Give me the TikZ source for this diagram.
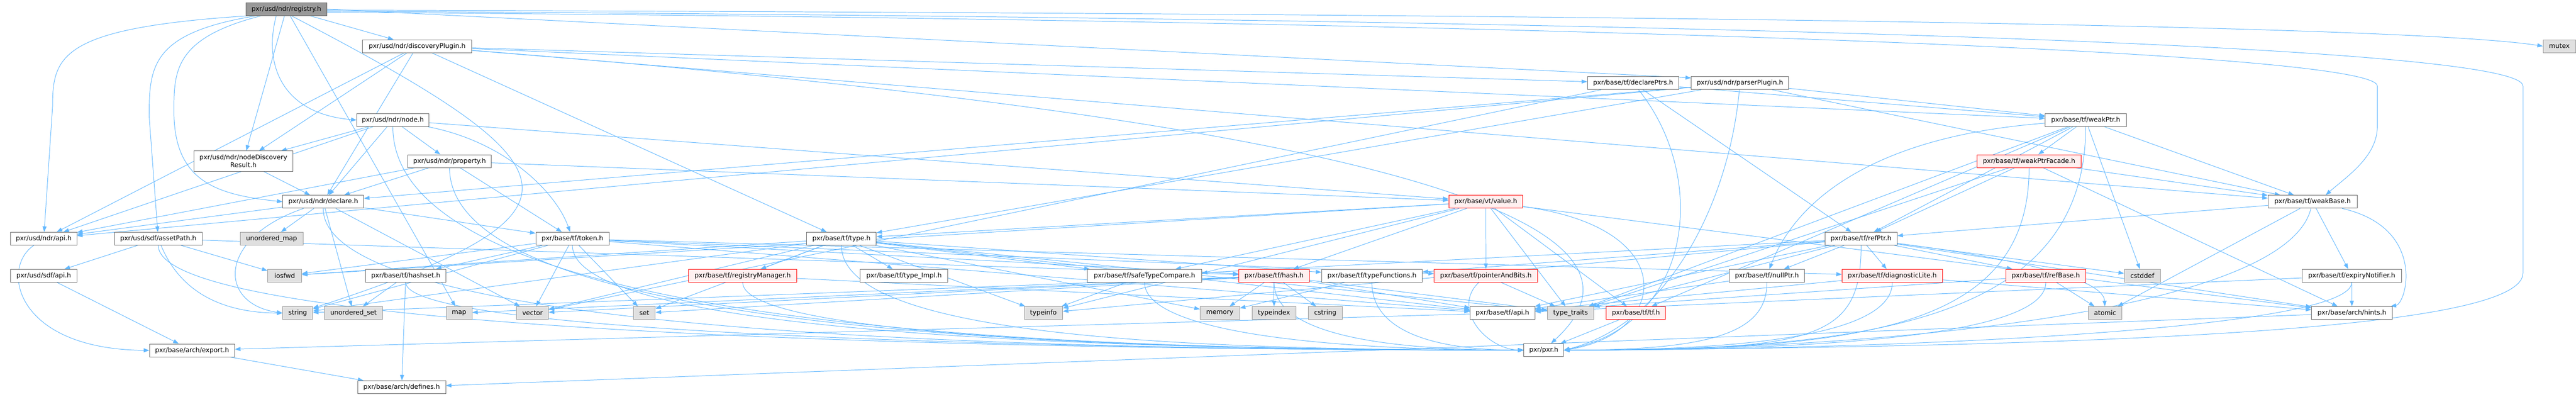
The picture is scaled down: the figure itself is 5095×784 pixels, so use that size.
\documentclass[tikz,border=0pt]{standalone}
\usepackage{fontspec}
\setmainfont{DejaVu Sans}
\usetikzlibrary{arrows.meta}
\definecolor{edgeblue}{HTML}{63B8FF}
\definecolor{nborder}{HTML}{666666}
\definecolor{xborder}{HTML}{999999}
\definecolor{xfill}{HTML}{E0E0E0}
\definecolor{rfill}{HTML}{999999}
\definecolor{tfill}{HTML}{FFF0F0}
\pgfdeclarelayer{edgelayer}
\pgfsetlayers{edgelayer,main}
\tikzset{
  nbox/.style={draw=nborder, fill=white, line width=1pt, inner sep=0pt, minimum height=25.5pt, font=\fontsize{12.8}{15}\selectfont, text=black},
  rootbox/.style={nbox, fill=rfill},
  xbox/.style={nbox, draw=xborder, fill=xfill},
  tbox/.style={nbox, draw=red, fill=tfill},
  edge/.style={draw=edgeblue, line width=1pt, -{Triangle[length=11pt,width=8pt]}},
}
\begin{document}
\begin{tikzpicture}[x=1pt,y=-1pt]
\useasboundingbox (0,0) rectangle (5095,784);
% ---------- nodes ----------
\node[rootbox, minimum width=159.4pt] (registry) at (566.4,18) {pxr/usd/ndr/registry.h};
\node[nbox, minimum width=215.8pt] (discPlug) at (825,91.25) {pxr/usd/ndr/discoveryPlugin.h};
\node[xbox, minimum width=64pt] (mutex) at (5062,91.25) {mutex};
\node[nbox, minimum width=181pt] (declarePtrs) at (3230.2,164.25) {pxr/base/tf/declarePtrs.h};
\node[nbox, minimum width=192.6pt] (parserPlugin) at (3441.4,164.25) {pxr/usd/ndr/parserPlugin.h};
\node[nbox, minimum width=142.5pt] (ndnode) at (777,237.25) {pxr/usd/ndr/node.h};
\node[nbox, minimum width=160.4pt] (weakPtr) at (4125.2,237.25) {pxr/base/tf/weakPtr.h};
\node[nbox, minimum width=196.2pt, minimum height=40pt, align=center] (nodeDisc) at (481.3,318.5) {pxr/usd/ndr/nodeDiscovery\\Result.h};
\node[nbox, minimum width=164.4pt] (property) at (889.2,318.5) {pxr/usd/ndr/property.h};
\node[tbox, minimum width=206.6pt] (weakPtrFacade) at (4013.3,318.5) {pxr/base/tf/weakPtrFacade.h};
\node[nbox, minimum width=160pt] (declare) at (639.3,398.75) {pxr/usd/ndr/declare.h};
\node[tbox, minimum width=146.4pt] (value) at (2938.6,398.75) {pxr/base/vt/value.h};
\node[nbox, minimum width=176.1pt] (weakBase) at (4573.9,398.75) {pxr/base/tf/weakBase.h};
\node[nbox, minimum width=130.7pt] (api) at (86.5,471.75) {pxr/usd/ndr/api.h};
\node[nbox, minimum width=172.9pt] (assetPath) at (313,471.75) {pxr/usd/sdf/assetPath.h};
\node[xbox, minimum width=124.7pt] (umap) at (537.2,471.75) {unordered\_map};
\node[nbox, minimum width=144.7pt] (token) at (1132.2,471.75) {pxr/base/tf/token.h};
\node[nbox, minimum width=137.7pt] (ntype) at (1664.2,471.75) {pxr/base/tf/type.h};
\node[nbox, minimum width=142.5pt] (refPtr) at (3681,471.75) {pxr/base/tf/refPtr.h};
\node[nbox, minimum width=130.7pt] (sdfapi) at (86.5,545) {pxr/usd/sdf/api.h};
\node[xbox, minimum width=67.2pt] (iosfwd) at (563.1,545) {iosfwd};
\node[nbox, minimum width=159pt] (hashset) at (802.5,545) {pxr/base/tf/hashset.h};
\node[tbox, minimum width=213.5pt] (regMgr) at (1469,545) {pxr/base/tf/registryManager.h};
\node[nbox, minimum width=172.9pt] (typeImpl) at (1788,545) {pxr/base/tf/type\_Impl.h};
\node[nbox, minimum width=225.4pt] (safeTC) at (2263.7,545) {pxr/base/tf/safeTypeCompare.h};
\node[tbox, minimum width=139.5pt] (hash) at (2519.9,545) {pxr/base/tf/hash.h};
\node[nbox, minimum width=198.9pt] (typeFn) at (2713.5,545) {pxr/base/tf/typeFunctions.h};
\node[tbox, minimum width=204.4pt] (ptrBits) at (2938.9,545) {pxr/base/tf/pointerAndBits.h};
\node[nbox, minimum width=149.1pt] (nullPtr) at (3494.6,545) {pxr/base/tf/nullPtr.h};
\node[tbox, minimum width=198.3pt] (diagLite) at (3742.6,545) {pxr/base/tf/diagnosticLite.h};
\node[tbox, minimum width=158.7pt] (refBase) at (4046.4,545) {pxr/base/tf/refBase.h};
\node[xbox, minimum width=71.2pt] (cstddef) at (4237.2,545) {cstddef};
\node[nbox, minimum width=196.7pt] (expiry) at (4651.4,545) {pxr/base/tf/expiryNotifier.h};
\node[xbox, minimum width=59.1pt] (nstring) at (588.9,618.75) {string};
\node[xbox, minimum width=114.9pt] (uset) at (699.2,618.75) {unordered\_set};
\node[xbox, minimum width=51pt] (nmap) at (908,618.75) {map};
\node[xbox, minimum width=62.9pt] (nvector) at (1053.3,618.75) {vector};
\node[xbox, minimum width=43.4pt] (nset) at (1274.4,618.75) {set};
\node[xbox, minimum width=75.9pt] (typeinfo) at (2063.7,618.75) {typeinfo};
\node[xbox, minimum width=78pt] (memory) at (2412.7,618.75) {memory};
\node[xbox, minimum width=87.3pt] (typeindex) at (2519.9,618.75) {typeindex};
\node[xbox, minimum width=66.6pt] (cstring) at (2621.3,618.75) {cstring};
\node[nbox, minimum width=127.9pt] (tfapi) at (2971.7,618.75) {pxr/base/tf/api.h};
\node[xbox, minimum width=91.6pt] (typetraits) at (3106.4,618.75) {type\_traits};
\node[tbox, minimum width=117.1pt] (tf) at (3235.7,618.75) {pxr/base/tf/tf.h};
\node[xbox, minimum width=66.1pt] (atomic) at (4163.7,618.75) {atomic};
\node[nbox, minimum width=159.3pt] (hints) at (4651.7,618.75) {pxr/base/arch/hints.h};
\node[nbox, minimum width=168.3pt] (export) at (379.9,692.5) {pxr/base/arch/export.h};
\node[nbox, minimum width=78.6pt] (pxr) at (3053.3,692) {pxr/pxr.h};
\node[nbox, minimum width=174.1pt] (defines) at (794.4,765.25) {pxr/base/arch/defines.h};
% ---------- edges ----------
\begin{pgfonlayer}{edgelayer}
% registry
\draw[edge] ([xshift=-75pt]registry.south) .. controls (120,55) and (104,110) .. (104,210) -- (api);
\draw[edge] ([xshift=-60pt]registry.south) .. controls (300,65) and (295,130) .. (295,230) -- (assetPath);
\draw[edge] ([xshift=-50pt]registry.south) .. controls (345,75) and (344,140) .. (344,220) .. controls (344,360) and (430,385) .. (declare.west);
\draw[edge] (registry) -- (nodeDisc);
\draw[edge] ([xshift=-20pt]registry.south) .. controls (520,130) and (560,225) .. (ndnode.west);
\draw[edge] (registry) -- (discPlug);
\draw[edge] ([xshift=10pt]registry.south) .. controls (1150,330) and (1200,420) .. (nstring);
\draw[edge] (registry) -- (nmap);
\draw[edge] (registry.east) -- ([yshift=-3pt]parserPlugin.north west);
\draw[edge] ([yshift=-2pt]registry.east) .. controls (2500,25) and (4700,40) .. (mutex.west);
\draw[edge] ([yshift=-4pt]registry.east) .. controls (3000,35) and (4990,80) .. (4990,170) -- (4990,540) .. controls (4990,650) and (4200,685) .. (pxr.east);
\draw[edge] ([yshift=-6pt]registry.east) .. controls (3000,40) and (4702,100) .. (4702,170) -- (4702,250) .. controls (4702,310) and (4640,350) .. ([xshift=26pt]weakBase.north);
% discoveryPlugin
\draw[edge] (discPlug) -- (api);
\draw[edge] (discPlug) -- (nodeDisc);
\draw[edge] (discPlug) -- (declare);
\draw[edge] (discPlug) -- (ntype);
\draw[edge] (discPlug) -- (declarePtrs);
\draw[edge] (discPlug) -- (weakPtr);
\draw[edge] (discPlug) -- (weakBase);
\draw[edge] (discPlug) .. controls (2600,230) and (3350,420) .. (pxr);
% parserPlugin
\draw[edge] (parserPlugin) -- (api);
\draw[edge] (parserPlugin) -- (declare);
\draw[edge] (parserPlugin) -- (ntype);
\draw[edge] (parserPlugin) -- (weakPtr);
\draw[edge] (parserPlugin) -- (weakBase);
\draw[edge] (parserPlugin) .. controls (3420,400) and (3300,640) .. (pxr.east);
% node
\draw[edge] (ndnode) -- (api);
\draw[edge] (ndnode) -- (nodeDisc);
\draw[edge] (ndnode) -- (declare);
\draw[edge] (ndnode) -- (property);
\draw[edge] (ndnode) .. controls (1000,280) and (1100,380) .. (token);
\draw[edge] (ndnode) -- (value);
\draw[edge] (ndnode) .. controls (777,667) and (2214,692) .. (pxr.west);
% property
\draw[edge] (property) -- (api);
\draw[edge] (property) -- (declare);
\draw[edge] (property) -- (token);
\draw[edge] (property) -- (value);
\draw[edge] (property) .. controls (889,668) and (2214,692) .. (pxr.west);
% nodeDiscoveryResult
\draw[edge] (nodeDisc) -- (declare);
% declare
\draw[edge] (declare) -- (api);
\draw[edge] (declare) -- (token);
\draw[edge] (declare) -- (umap);
\draw[edge] (declare) .. controls (430,470) and (430,600) .. (nstring.west);
\draw[edge] (declare) -- (uset);
\draw[edge] (declare) -- (nvector);
\draw[edge] (declare) .. controls (639,669) and (2114,692) .. (pxr.west);
% assetPath
\draw[edge] (assetPath) -- (sdfapi);
\draw[edge] (assetPath) -- (iosfwd);
\draw[edge] (assetPath) .. controls (360,585) and (450,618) .. (nstring.west);
\draw[edge] (assetPath) -- (hash);
\draw[edge] (assetPath) .. controls (313,662) and (2014,692) .. (pxr.west);
% api
\draw[edge] (api) .. controls (0,530) and (30,690) .. (export.west);
\draw[edge] (sdfapi) -- (export);
% hashset
\draw[edge] (hashset) -- (uset);
\draw[edge] (hashset) -- (defines);
\draw[edge] (hashset) .. controls (802.5,665) and (2214,692) .. (pxr.west);
% token
\draw[edge] (token) -- (hashset);
\draw[edge] (token) -- (iosfwd);
\draw[edge] (token) -- (nstring);
\draw[edge] (token) -- (nvector);
\draw[edge] (token) -- (nset);
\draw[edge] (token) .. controls (1132,662) and (2214,692) .. (pxr.west);
\draw[edge] (token) -- (tfapi);
\draw[edge] (token) -- (diagLite);
\draw[edge] (token) -- (hash);
\draw[edge] (token) -- (ptrBits);
% type
\draw[edge] (ntype) -- (regMgr);
\draw[edge] (ntype) -- (typeImpl);
\draw[edge] (ntype) -- (nset);
\draw[edge] (ntype) -- (nvector);
\draw[edge] (ntype) -- (iosfwd);
\draw[edge] (ntype) -- (nstring);
\draw[edge] (ntype) -- (typeinfo);
\draw[edge] (ntype) -- (memory);
\draw[edge] (ntype) -- (safeTC);
\draw[edge] (ntype) -- (typeFn);
\draw[edge] (ntype) -- (tfapi);
\draw[edge] (ntype) -- (typetraits);
\draw[edge] (ntype) .. controls (1664,662) and (2314,692) .. (pxr.west);
% registryManager
\draw[edge] (regMgr) -- (tfapi);
\draw[edge] (regMgr) .. controls (1469,665) and (2314,692) .. (pxr.west);
% safeTypeCompare
\draw[edge] (safeTC) -- (typeinfo);
\draw[edge] (safeTC) .. controls (2264,655) and (2614,692) .. (pxr.west);
% hash
\draw[edge] (hash) -- (memory);
\draw[edge] (hash) -- (typeindex);
\draw[edge] (hash) -- (cstring);
\draw[edge] (hash) -- (nstring);
\draw[edge] (hash) -- (nmap);
\draw[edge] (hash) -- (nvector);
\draw[edge] (hash) -- (nset);
\draw[edge] (hash) -- (typetraits);
\draw[edge] (hash) -- (tfapi);
\draw[edge] (hash) .. controls (2520,655) and (2714,692) .. (pxr.west);
% typeFunctions
\draw[edge] (typeFn) -- (memory);
\draw[edge] (typeFn) .. controls (2713,645) and (2814,692) .. (pxr.west);
% pointerAndBits
\draw[edge] (ptrBits) .. controls (2870,610) and (2940,690) .. (pxr.west);
\draw[edge] (ptrBits) -- (typetraits);
% value
\draw[edge] (value) -- (ptrBits);
\draw[edge] (value) -- (typetraits);
\draw[edge] (value) -- (tf);
\draw[edge] (value) -- (ntype);
\draw[edge] (value) -- (safeTC);
\draw[edge] (value) -- (typeinfo);
\draw[edge] (value) -- (iosfwd);
\draw[edge] (value) -- (hash);
\draw[edge] (value) -- (hints);
\draw[edge] (value) .. controls (3330,450) and (3300,660) .. (pxr.east);
% declarePtrs
\draw[edge] (declarePtrs) -- (refPtr);
\draw[edge] (declarePtrs) -- (weakPtr);
\draw[edge] (declarePtrs) -- (nvector);
\draw[edge] (declarePtrs) .. controls (3380,350) and (3350,640) .. (pxr.east);
% weakPtr
\draw[edge] (weakPtr) -- (weakPtrFacade);
\draw[edge] (weakPtr) .. controls (3700,270) and (3550,400) .. (nullPtr);
\draw[edge] (weakPtr) -- (refPtr);
\draw[edge] (weakPtr) -- (cstddef);
\draw[edge] (weakPtr) -- (weakBase);
\draw[edge] (weakPtr) -- (tf);
\draw[edge] (weakPtr) -- (typetraits);
\draw[edge] (weakPtr) .. controls (4125,637) and (3693,692) .. (pxr.east);
% weakPtrFacade
\draw[edge] (weakPtrFacade) -- (refPtr);
\draw[edge] (weakPtrFacade) -- (weakBase);
\draw[edge] (weakPtrFacade) -- (typetraits);
\draw[edge] (weakPtrFacade) -- (hints);
\draw[edge] (weakPtrFacade) .. controls (4013,648) and (3693,692) .. (pxr.east);
% refPtr
\draw[edge] (refPtr) -- (nullPtr);
\draw[edge] (refPtr) -- (diagLite);
\draw[edge] (refPtr) -- (refBase);
\draw[edge] (refPtr) -- (cstddef);
\draw[edge] (refPtr) .. controls (3900,500) and (4160,540) .. (atomic);
\draw[edge] (refPtr) -- (typeFn);
\draw[edge] (refPtr) -- (safeTC);
\draw[edge] (refPtr) -- (typeinfo);
\draw[edge] (refPtr) -- (tfapi);
\draw[edge] (refPtr) -- (typetraits);
\draw[edge] (refPtr) -- (hints);
\draw[edge] (refPtr) .. controls (3681,672) and (3593,692) .. (pxr.east);
% nullPtr
\draw[edge] (nullPtr) -- (tfapi);
\draw[edge] (nullPtr) .. controls (3495,655) and (3393,692) .. (pxr.east);
% diagnosticLite
\draw[edge] (diagLite) -- (tfapi);
\draw[edge] (diagLite) -- (hints);
\draw[edge] (diagLite) .. controls (3743,655) and (3493,692) .. (pxr.east);
% refBase
\draw[edge] (refBase) -- (atomic);
\draw[edge] (refBase) -- (tfapi);
\draw[edge] (refBase) .. controls (4046,665) and (3593,692) .. (pxr.east);
% weakBase
\draw[edge] (weakBase) -- (refPtr);
\draw[edge] (weakBase) -- (atomic);
\draw[edge] (weakBase) -- (expiry);
\draw[edge] (weakBase) .. controls (4800,450) and (4760,600) .. (hints);
\draw[edge] (weakBase) .. controls (4520,620) and (3693,692) .. (pxr.east);
% expiryNotifier
\draw[edge] (expiry) -- (tfapi);
\draw[edge] (expiry) -- (hints);
\draw[edge] (expiry) .. controls (4651,655) and (3693,692) .. (pxr.east);
% leaves
\draw[edge] (hints) -- (defines);
\draw[edge] (tf) -- (pxr);
\draw[edge] (tfapi) -- (export);
\draw[edge] (export) -- (defines);
\end{pgfonlayer}
\end{tikzpicture}
\end{document}
